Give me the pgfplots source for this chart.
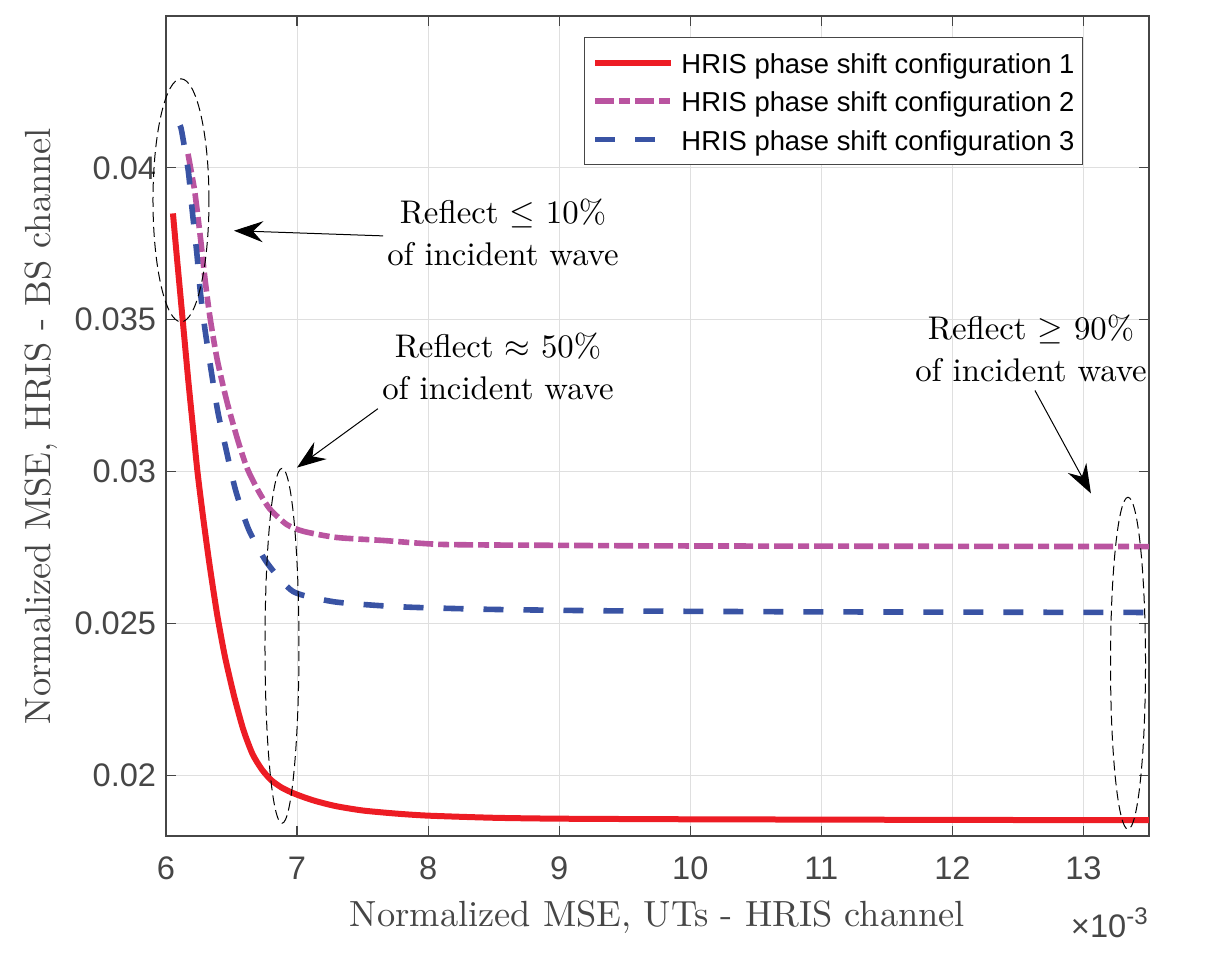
\documentclass[border=0pt]{standalone}
\usepackage{fix-cm}
\usepackage{fontspec}
\setmainfont{lmroman10-regular}[Extension=.otf]
\usepackage{pgfplots}
\pgfplotsset{compat=1.18}
\usetikzlibrary{arrows.meta}
\newfontfamily\arial{Liberation Sans}
\definecolor{c1}{RGB}{237,28,36}
\definecolor{c2}{RGB}{186,84,160}
\definecolor{c3}{RGB}{57,83,164}
\definecolor{axc}{RGB}{70,70,70}
\definecolor{gridc}{RGB}{223,223,223}
\begin{document}
\begin{tikzpicture}
\useasboundingbox (0,0) rectangle (611pt,482pt);
\begin{axis}[
 at={(83pt,64pt)}, anchor=south west,
 scale only axis, width=491.5pt, height=410pt,
 xmin=6, xmax=13.5, ymin=0.018, ymax=0.045,
 xtick={6,7,8,9,10,11,12,13},
 xticklabels={6,7,8,9,10,11,12,13},
 ytick={0.02,0.025,0.03,0.035,0.04},
 yticklabels={0.02,0.025,0.03,0.035,0.04},
 scaled y ticks=false, scaled x ticks=false,
 tick pos=both, tick align=inside, major tick length=5pt,
 grid=major, major grid style={gridc, line width=0.5pt},
 axis line style={axc, line width=0.6pt},
 every tick/.style={axc, line width=0.6pt},
 tick label style={font=\arial\fontsize{16.3}{19}\selectfont, text=axc},
 /pgf/number format/assume math mode=true,
 xticklabel style={yshift=-7pt},
 yticklabel style={xshift=-1.4pt},
 clip mode=individual,
 legend style={at={(0.9329,0.9744)}, anchor=north east, draw=axc, line width=0.6pt,
   font=\arial\fontsize{13.7}{16}\selectfont, inner xsep=4pt, inner ysep=4pt,
   row sep=2pt, column sep=3.5pt,
   nodes={inner sep=0pt, text height=14pt, text depth=3.2pt}},
 legend cell align=left,
 legend image code/.code={\draw[#1] (0pt,0pt) -- (38pt,0pt);},
]
\addplot[c1, line width=3pt, smooth, tension=0.4] coordinates {
(6.053,0.0385) (6.08,0.0372) (6.11,0.0358) (6.14,0.0344) (6.17,0.0330)
(6.20,0.0317) (6.24,0.0300) (6.28,0.0286) (6.33,0.0270) (6.39,0.0253)
(6.45,0.0239) (6.52,0.0226) (6.59,0.0215) (6.66,0.0207) (6.73,0.0202)
(6.80,0.01985) (6.88,0.01960) (6.96,0.01943) (7.05,0.01928) (7.15,0.01914)
(7.30,0.01898) (7.50,0.01884) (7.75,0.01874) (8.00,0.01867) (8.50,0.01860)
(9.00,0.01857) (10.0,0.01855) (11.0,0.01854) (12.0,0.01853) (13.5,0.01852)
};
\addlegendentry{HRIS phase shift configuration 1}
\addplot[c2, line width=2.8pt, smooth, tension=0.4, dash pattern=on 9.5pt off 2.5pt on 5.5pt off 2.5pt] coordinates {
(6.168,0.04046) (6.20,0.0397) (6.22,0.0392) (6.26,0.0378) (6.30,0.03625)
(6.335,0.0351) (6.39,0.0337) (6.465,0.0323) (6.55,0.0310) (6.62,0.0301)
(6.70,0.0294) (6.79,0.02878) (6.92,0.02826) (7.05,0.02803) (7.30,0.02783)
(7.66,0.02773) (8.11,0.0276) (9.0,0.02757) (10.0,0.02755) (13.5,0.02753)
};
\addlegendentry{HRIS phase shift configuration 2}
\addplot[c3, line width=2.8pt, smooth, tension=0.4, dash pattern=on 10pt off 10pt] coordinates {
(6.107,0.0414) (6.12,0.0412) (6.17,0.0399) (6.20,0.0386) (6.235,0.0372)
(6.26,0.0360) (6.30,0.0346) (6.39,0.0321) (6.46,0.0307) (6.53,0.0294)
(6.63,0.0281) (6.77,0.0270) (6.97,0.02605) (7.27,0.02572) (7.58,0.0256)
(7.88,0.02553) (8.5,0.02546) (9.5,0.02541) (11.0,0.02538) (13.5,0.02536)
};
\addlegendentry{HRIS phase shift configuration 3}

% annotations
\node[font=\fontsize{16.4}{21}\selectfont, align=center, text=black] at (axis cs:8.571,0.03786) {Reflect $\leq$ 10\%\\of incident wave};
\node[font=\fontsize{16.4}{21}\selectfont, align=center, text=black] at (axis cs:8.533,0.03345) {Reflect $\approx$ 50\%\\of incident wave};
\node[font=\fontsize{16.4}{21}\selectfont, align=center, text=black] at (axis cs:12.600,0.03405) {Reflect $\geq$ 90\%\\of incident wave};
\draw[-{Stealth[length=14.5pt,width=10.5pt,inset=5pt]}, line width=0.5pt, black] (axis cs:7.656,0.03776) -- (axis cs:6.519,0.03793);
\draw[-{Stealth[length=14.5pt,width=10.5pt,inset=5pt]}, line width=0.5pt, black] (axis cs:7.617,0.03207) -- (axis cs:6.9995,0.03013);
\draw[-{Stealth[length=14.5pt,width=10.5pt,inset=5pt]}, line width=0.5pt, black] (axis cs:12.630,0.03267) -- (axis cs:13.057,0.02928);
\draw[black, line width=0.5pt, dash pattern=on 5pt off 2.5pt] (axis cs:6.1144,0.03893) ellipse [x radius=14pt, y radius=60.75pt];
\draw[black, line width=0.5pt, dash pattern=on 5pt off 2.5pt] (axis cs:6.885,0.024262) ellipse [x radius=8.5pt, y radius=88.75pt];
\draw[black, line width=0.5pt, dash pattern=on 5pt off 2.5pt] (axis cs:13.340,0.023687) ellipse [x radius=8.75pt, y radius=83pt];
\end{axis}
\node[anchor=base, text=axc, font=\fontsize{18.2}{21}\selectfont] at (328.75pt,18.5pt) {Normalized MSE, UTs - HRIS channel};
\node[anchor=base, rotate=90, text=axc, font=\fontsize{18.2}{21}\selectfont] at (25pt,269pt) {Normalized MSE, HRIS - BS channel};
\node[anchor=base east, inner sep=0pt, text=axc] at (574pt,13pt) {\arial\fontsize{16.3}{19}\selectfont ×10\raisebox{6.5pt}{\fontsize{12}{14}\selectfont -3}};
\end{tikzpicture}
\end{document}
